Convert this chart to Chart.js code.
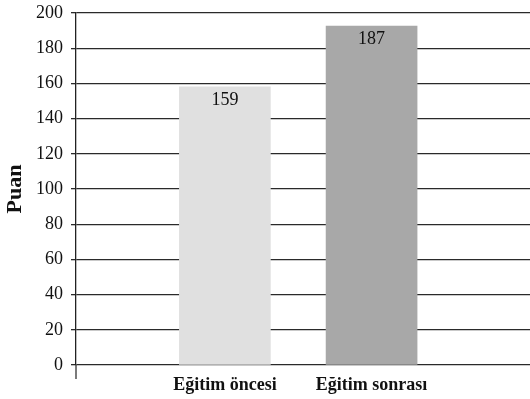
<!DOCTYPE html>
<html>
<head>
<meta charset="utf-8">
<script src="https://cdn.jsdelivr.net/npm/chart.js@4"></script>
<style>
    html, body { margin: 0; padding: 0; background: #fff; overflow: hidden; }
    #wrap { width: 530px; height: 399px; }
</style>
</head>
<body>
<div id="wrap"><canvas id="scoreChart"></canvas></div>
<script>
const categories = ["Eğitim öncesi", "Eğitim sonrası"];
const categoryPos = [1, 2];
const scores = [158, 192.5];
const valueLabels = ["159", "187"];
const yTicks = [0, 20, 40, 60, 80, 100, 120, 140, 160, 180, 200];
const barColors = ["#e0e0e0", "#a8a8a8"];

const serif = "'Liberation Serif', 'Times New Roman', serif";

// y axis line runs a bit below the zero line in the original
const axisTail = {
    id: "axisTail",
    afterDraw(chart) {
        const { ctx, chartArea } = chart;
        ctx.save();
        ctx.strokeStyle = "#222";
        ctx.lineWidth = 1.2;
        ctx.beginPath();
        ctx.moveTo(chartArea.left, chartArea.bottom);
        ctx.lineTo(chartArea.left, chartArea.bottom + 14);
        ctx.stroke();
        ctx.restore();
    }
};

const barLabels = {
    id: "barLabels",
    afterDatasetsDraw(chart) {
        const { ctx } = chart;
        const meta = chart.getDatasetMeta(0);
        ctx.save();
        ctx.font = "18px " + serif;
        ctx.fillStyle = "#111";
        ctx.textAlign = "center";
        ctx.textBaseline = "middle";
        meta.data.forEach((bar, i) => {
            ctx.fillText(valueLabels[i], bar.x, bar.y + 13);
        });
        ctx.restore();
    }
};

new Chart(document.getElementById("scoreChart"), {
    type: "bar",
    data: {
        datasets: [{
            data: scores.map((v, i) => ({ x: categoryPos[i], y: v })),
            backgroundColor: barColors,
            borderWidth: 0,
            barThickness: 91
        }]
    },
    options: {
        responsive: true,
        maintainAspectRatio: false,
        animation: false,
        layout: { padding: { top: 13, right: 0, bottom: 0, left: 0 } },
        plugins: {
            legend: { display: false },
            tooltip: { enabled: false }
        },
        scales: {
            x: {
                type: "linear",
                offset: false,
                bounds: "data",
                min: -0.015,
                max: 3.08,
                afterBuildTicks: (scale) => {
                    scale.ticks = categoryPos.map(v => ({ value: v }));
                },
                afterFit: (scale) => {
                    scale.height = 34;
                    scale.paddingLeft = 0;
                    scale.paddingRight = 0;
                },
                ticks: {
                    callback: (v) => categories[categoryPos.indexOf(v)] || "",
                    font: { family: serif, size: 18, weight: "bold" },
                    color: "#111",
                    padding: 2,
                    maxRotation: 0,
                    autoSkip: false
                },
                grid: { display: false, offset: false },
                border: { display: false }
            },
            y: {
                min: 0,
                max: 200,
                afterBuildTicks: (scale) => {
                    scale.ticks = yTicks.map(v => ({ value: v }));
                },
                afterFit: (scale) => {
                    scale.width = 76;
                    scale.paddingTop = 0;
                    scale.paddingBottom = 0;
                },
                ticks: {
                    font: { family: serif, size: 18 },
                    color: "#111",
                    padding: 8
                },
                grid: {
                    color: "#2a2a2a",
                    lineWidth: 1.3,
                    tickLength: 5
                },
                border: { color: "#222", width: 1.3 },
                title: {
                    display: true,
                    text: "Puan",
                    font: { family: serif, size: 22, weight: "bold" },
                    color: "#111",
                    padding: { top: 2, bottom: 2 }
                }
            }
        }
    },
    plugins: [axisTail, barLabels]
});
</script>
</body>
</html>
